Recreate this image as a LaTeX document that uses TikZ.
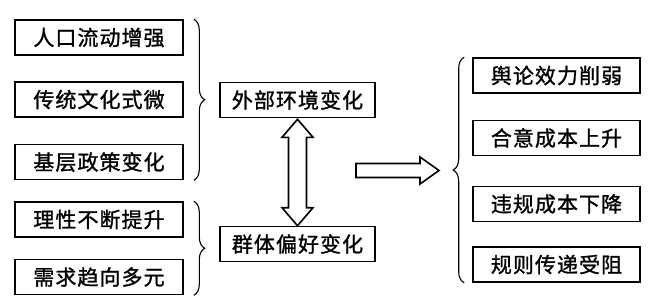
\documentclass[tikz,border=0pt]{standalone}
\usepackage{fontspec}
\newfontfamily\cjk[LetterSpace=5,FakeBold=1.2]{Noto Sans CJK SC}
\usetikzlibrary{decorations.pathreplacing,calc}
\begin{document}
\begin{tikzpicture}[x=1pt,y=-1pt,
  box/.style={draw, line width=1.6pt, minimum height=35pt, inner sep=0pt,
    font=\cjk\fontsize{21}{21}\selectfont},
  lbox/.style={box, minimum width=168pt},
  mbox/.style={box, minimum width=155pt},
  rbox/.style={box, minimum width=167pt},
  bracestyle/.style={decorate, decoration={brace, amplitude=11pt}, line width=1.1pt},
  fatarrow/.style={draw, line width=1.6pt, line join=miter}]
\useasboundingbox (0,0) rectangle (648,301);
% left boxes
\node[lbox] (a1) at (99,37.5) {人口流动增强};
\node[lbox] (a2) at (99,99.5) {传统文化式微};
\node[lbox] (a3) at (99,162) {基层政策变化};
\node[lbox] (a4) at (99,219.5) {理性不断提升};
\node[lbox] (a5) at (99,277) {需求趋向多元};
% middle boxes
\node[mbox] (ext) at (297.5,100) {外部环境变化};
\node[mbox] (grp) at (297.5,244) {群体偏好变化};
% right boxes
\node[rbox] (r1) at (556.5,75.5) {舆论效力削弱};
\node[rbox] (r2) at (556.5,138) {合意成本上升};
\node[rbox] (r3) at (556.5,204) {违规成本下降};
\node[rbox] (r4) at (556.5,264.5) {规则传递受阻};
% braces
\draw[bracestyle] ($(a1.north east)+(10,0)$) -- ($(a3.south east)+(10,0)$);
\draw[bracestyle] ($(a4.north east)+(10,0)$) -- ($(a5.south east)+(10,0)$);
\draw[bracestyle] ($(r4.south west)+(-8,0)$) -- ($(r1.north west)+(-8,0)$);
% double arrow between ext and grp
\coordinate (t) at ($(ext.south)+(0,1)$);
\coordinate (b) at (grp.north);
\draw[fatarrow] (t) -- ++(15.5,18) -- ++(-6.5,0) |- ($(b)+(9,-18)$) -- ++(6.5,0) -- (b)
  -- ++(-15.5,-18) -- ++(6.5,0) |- ($(t)+(-9,18)$) -- ++(-6.5,0) -- cycle;
% right arrow
\coordinate (s) at (356,170.5);
\coordinate (h) at (439,170.5);
\draw[fatarrow] ($(s)+(0,-7)$) -- ($(h)+(-19,-7)$) -- ++(0,-6.5) -- (h) -- ++(-19,13.5)
  -- ++(0,-6.5) -- ($(s)+(0,7)$) -- cycle;
\end{tikzpicture}
\end{document}
